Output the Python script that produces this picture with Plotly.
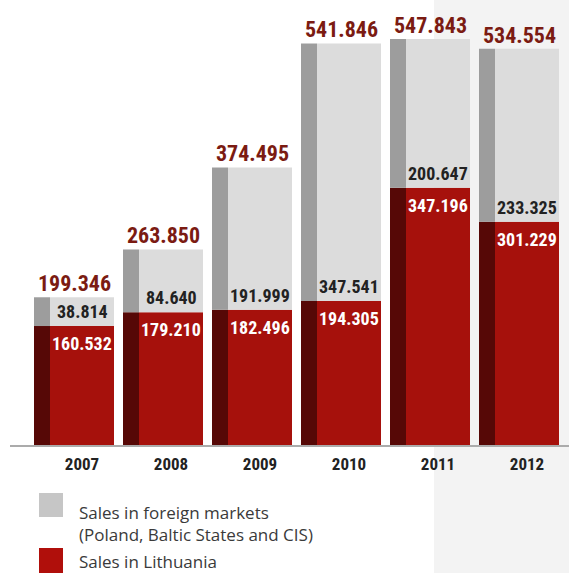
import plotly.graph_objects as go

# Sales figures (thousand units) by year
years = ["2007", "2008", "2009", "2010", "2011", "2012"]
sales_lithuania = [160.532, 179.210, 182.496, 194.305, 347.196, 301.229]
sales_foreign = [38.814, 84.640, 191.999, 347.541, 200.647, 233.325]
totals = [199.346, 263.850, 374.495, 541.846, 547.843, 534.554]

legend_foreign = "Sales in foreign markets<br>(Poland, Baltic States and CIS)"
legend_lithuania = "Sales in Lithuania"

# geometry (figure pixels)
W, H = 569, 573
ML, MB = 10, 128
PW, PH = W - ML, H - MB
STEP = 89.0                      # pixels per category
BAR_W, SIDE_W = 80.0, 16.0       # full bar width and shaded side strip
Y_MAX = 600.5

x_pos = list(range(len(years)))
bar_off = -BAR_W / 2 / STEP
side_w = SIDE_W / STEP
face_off = bar_off + side_w
face_w = (BAR_W - SIDE_W) / STEP
face_center = [x + face_off + face_w / 2 for x in x_pos]

RED_FACE, RED_SIDE = "#A6110C", "#560806"
GREY_FACE, GREY_SIDE = "#DCDCDC", "#9D9D9D"
TOTAL_COL = "#7B1B12"
NARROW = "Roboto Condensed, Liberation Sans Narrow, Arial Narrow, sans-serif"

fig = go.Figure()


def add_bar(vals, base, color, offset, width):
    fig.add_trace(go.Bar(
        x=x_pos, y=vals, base=base, offset=offset, width=width,
        marker=dict(color=color, line=dict(width=0)),
        hoverinfo="skip", showlegend=False,
    ))


add_bar(sales_lithuania, [0] * len(years), RED_SIDE, bar_off, side_w)
add_bar(sales_lithuania, [0] * len(years), RED_FACE, face_off, face_w)
add_bar(sales_foreign, sales_lithuania, GREY_SIDE, bar_off, side_w)
add_bar(sales_foreign, sales_lithuania, GREY_FACE, face_off, face_w)

annotations = []
for i in range(len(years)):
    # total above the bar
    annotations.append(dict(
        x=x_pos[i], y=totals[i], xref="x", yref="y",
        text=f"{totals[i]:.3f}", showarrow=False,
        yanchor="bottom", yshift=-1,
        font=dict(family=NARROW, size=22, color=TOTAL_COL, weight="bold"),
    ))
    # foreign markets value, just above the split
    annotations.append(dict(
        x=face_center[i], y=sales_lithuania[i], xref="x", yref="y",
        text=f"{sales_foreign[i]:.3f}", showarrow=False,
        yanchor="bottom", yshift=2,
        font=dict(family=NARROW, size=18, color="#222222", weight="bold"),
    ))
    # Lithuania value, just below the split
    annotations.append(dict(
        x=face_center[i], y=sales_lithuania[i], xref="x", yref="y",
        text=f"{sales_lithuania[i]:.3f}", showarrow=False,
        yanchor="top", yshift=-5,
        font=dict(family=NARROW, size=18, color="#FFFFFF", weight="bold"),
    ))


def px_x(px):
    return (px - ML) / PW


def px_y(py):
    return (PH - py) / PH


shapes = [
    # light panel on the right-hand side
    dict(type="rect", xref="paper", yref="paper",
         x0=px_x(434), x1=1.0, y0=px_y(H), y1=px_y(0),
         fillcolor="#F3F3F3", line=dict(width=0), layer="below"),
    # legend swatches
    dict(type="rect", xref="paper", yref="paper",
         x0=px_x(39), x1=px_x(63), y0=px_y(517), y1=px_y(493),
         fillcolor="#C6C6C6", line=dict(width=0)),
    dict(type="rect", xref="paper", yref="paper",
         x0=px_x(39), x1=px_x(63), y0=px_y(573), y1=px_y(548),
         fillcolor="#B00F0B", line=dict(width=0)),
]

LEG_FONT = dict(family="Open Sans, Noto Sans, sans-serif", size=17, color="#3A3A3A")
annotations.append(dict(
    x=px_x(77), y=px_y(499), xref="paper", yref="paper",
    text=legend_foreign, showarrow=False, xanchor="left", yanchor="top",
    align="left", font=LEG_FONT,
))
annotations.append(dict(
    x=px_x(77), y=px_y(548), xref="paper", yref="paper",
    text=legend_lithuania, showarrow=False, xanchor="left", yanchor="top",
    align="left", font=LEG_FONT,
))

fig.update_layout(
    width=W, height=H,
    margin=dict(l=ML, r=0, t=0, b=MB, pad=0),
    barmode="overlay",
    paper_bgcolor="white", plot_bgcolor="rgba(0,0,0,0)",
    shapes=shapes, annotations=annotations,
    xaxis=dict(
        range=[-(74 - ML) / STEP, len(years) - 1 + (W - (74 + STEP * (len(years) - 1))) / STEP],
        tickvals=face_center, ticktext=years, ticks="",
        showline=True, linecolor="#ABABAB", linewidth=2,
        showgrid=False, zeroline=False, fixedrange=True,
        tickfont=dict(family=NARROW, size=17, color="#222222", weight="bold"),
        ticklabelstandoff=3,
    ),
    yaxis=dict(range=[0, Y_MAX], visible=False, fixedrange=True),
    showlegend=False,
)

fig.write_html("out.html")
